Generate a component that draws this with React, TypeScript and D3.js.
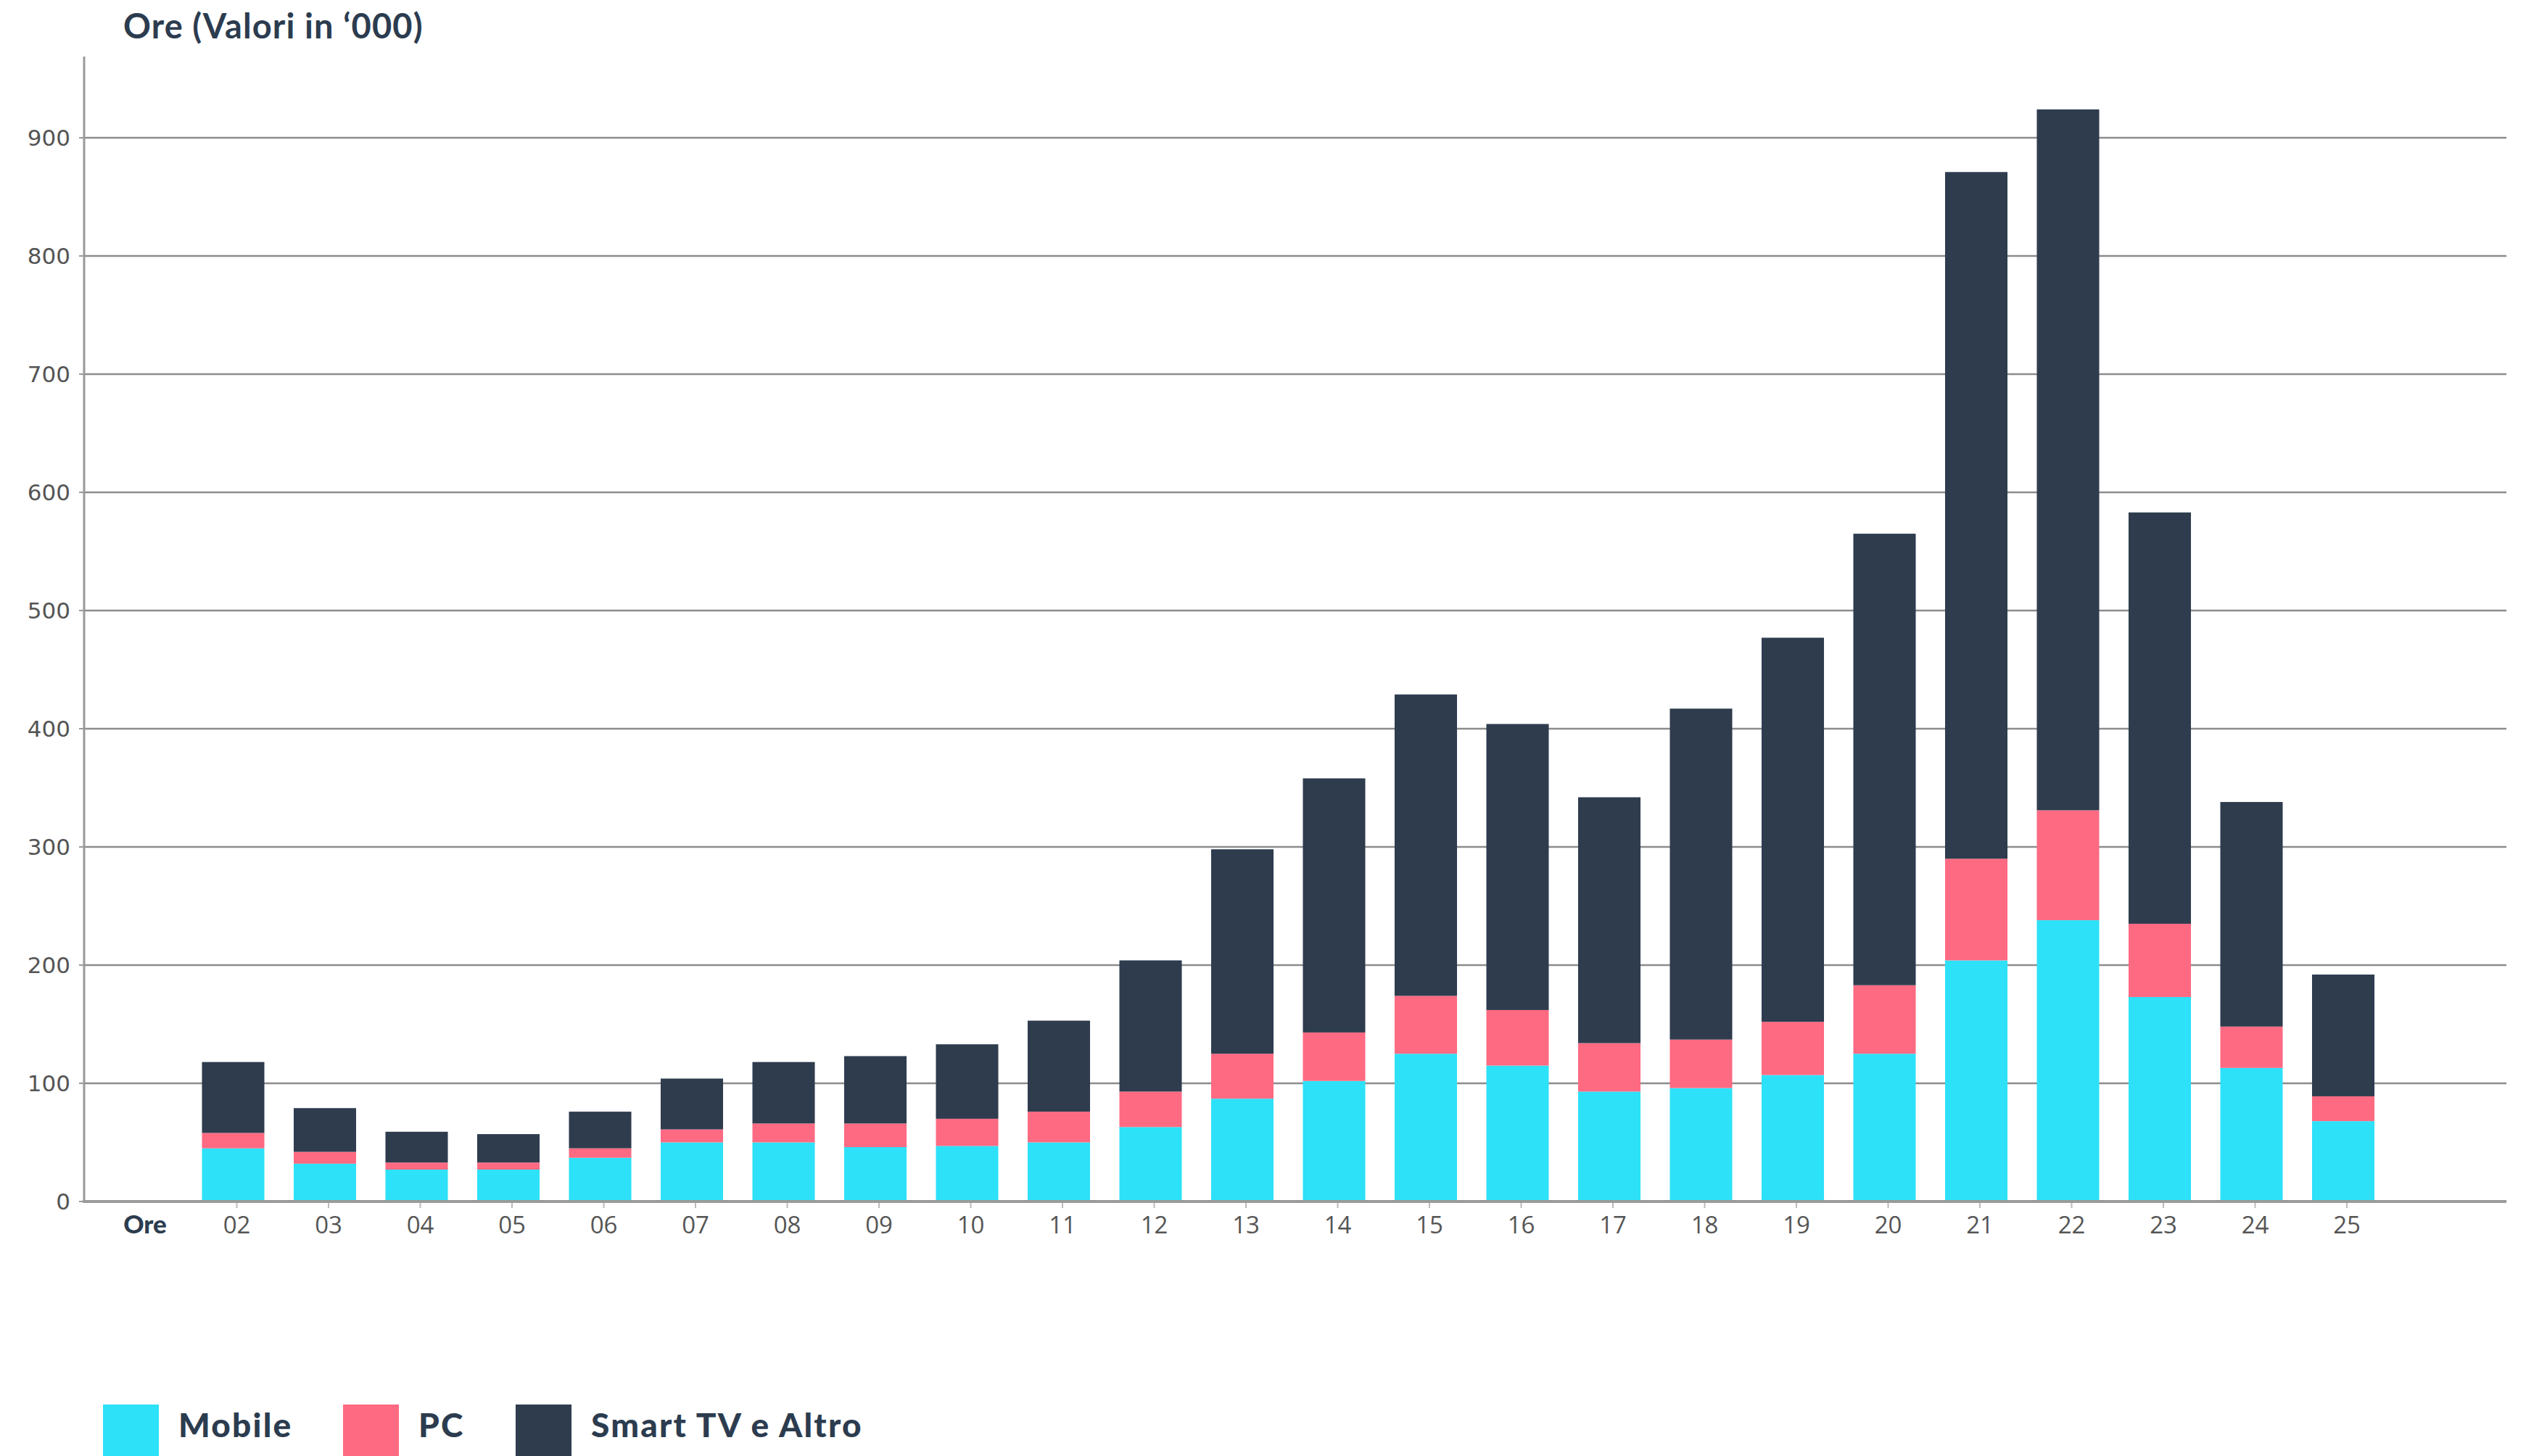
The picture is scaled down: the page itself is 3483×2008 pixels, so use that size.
import React from "react";
import * as d3 from "d3";

const categories = ["Ore", "02", "03", "04", "05", "06", "07", "08", "09", "10", "11", "12", "13", "14", "15", "16", "17", "18", "19", "20", "21", "22", "23", "24", "25"];
const hours = ["02", "03", "04", "05", "06", "07", "08", "09", "10", "11", "12", "13", "14", "15", "16", "17", "18", "19", "20", "21", "22", "23", "24", "25"];
const mobile = [45, 32, 27, 27, 37, 50, 50, 46, 47, 50, 63, 87, 102, 125, 115, 93, 96, 107, 125, 204, 238, 173, 113, 68];
const pc = [13, 10, 6, 6, 8, 11, 16, 20, 23, 26, 30, 38, 41, 49, 47, 41, 41, 45, 58, 86, 93, 62, 35, 21];
const smart = [60, 37, 26, 24, 31, 43, 52, 57, 63, 77, 111, 173, 215, 255, 242, 208, 280, 325, 382, 581, 593, 348, 190, 103];
const yTicks = [0, 100, 200, 300, 400, 500, 600, 700, 800, 900];
const seriesKeys = ["mobile", "pc", "smart"];
const seriesNames = ["Mobile", "PC", "Smart TV e Altro"];
const colors = ["#2DE1F8", "#FE6A82", "#2E3C4E"];

const W = 3483;
const H = 2008;

export default function App() {
  const x = d3.scalePoint<string>().domain(categories).range([200, 3236]);
  const barW = x.step() * 0.68;
  const y = d3.scaleLinear().domain([0, 900]).range([1657, 190]);
  const rows = hours.map((h, i) => ({ hour: h, mobile: mobile[i], pc: pc[i], smart: smart[i] }));
  const stacked = d3.stack<any>().keys(seriesKeys)(rows);
  const axisLeft = 116;
  const axisRight = 3456;
  const dark = "#2C3C4F";
  const legendX = [142, 473, 711];

  return (
    <svg
      width={W}
      height={H}
      style={{ position: "absolute", left: 0, top: 0, background: "#fff" }}
      xmlns="http://www.w3.org/2000/svg"
    >
      <rect x={0} y={0} width={W} height={H} fill="#fff" />
      <text x={170} y={53} fontFamily="Lato" fontWeight={700} fontSize={47} letterSpacing={1.1} fill={dark}>
        Ore (Valori in ‘000)
      </text>

      {/* gridlines */}
      {yTicks.filter((t) => t > 0).map((t) => (
        <line key={t} x1={axisLeft} x2={axisRight} y1={y(t)} y2={y(t)} stroke="#8c8c8c" strokeWidth={2.5} />
      ))}
      {/* y ticks and labels */}
      {yTicks.map((t) => (
        <g key={"yl" + t}>
          <line x1={109} x2={axisLeft} y1={y(t)} y2={y(t)} stroke="#999" strokeWidth={2} />
          <text
            x={97}
            y={y(t)}
            dy="0.36em"
            textAnchor="end"
            fontFamily="DejaVu Sans"
            fontSize={31}
            fill="#555"
          >
            {t}
          </text>
        </g>
      ))}

      {/* bars */}
      {stacked.map((s, si) => (
        <g key={s.key} fill={colors[si]}>
          {s.map((d: any, i: number) => (
            <rect
              key={i}
              x={(x(d.data.hour) as number) - barW / 2 - 5}
              y={y(d[1])}
              width={barW}
              height={y(d[0]) - y(d[1])}
            />
          ))}
        </g>
      ))}

      {/* axes */}
      <line x1={axisLeft} x2={axisLeft} y1={78} y2={1658} stroke="#999" strokeWidth={3} />
      <line x1={axisLeft - 2} x2={axisRight} y1={y(0)} y2={y(0)} stroke="#9a9a9a" strokeWidth={4} />

      {/* x ticks and labels */}
      {categories.map((c, i) => (
        <g key={"xl" + c}>
          {i > 0 && (
            <line x1={x(c)} x2={x(c)} y1={y(0) + 2} y2={y(0) + 9} stroke="#bbb" strokeWidth={2} />
          )}
          <text
            x={x(c)}
            y={1701}
            textAnchor="middle"
            fontFamily={i === 0 ? "Lato" : "Open Sans"}
            fontWeight={i === 0 ? 900 : 400}
            fontSize={i === 0 ? 35 : 33}
            fill={i === 0 ? dark : "#555"}
          >
            {c}
          </text>
        </g>
      ))}

      {/* legend */}
      {seriesNames.map((n, i) => (
        <g key={n}>
          <rect x={legendX[i]} y={1937} width={77} height={77} fill={colors[i]} />
          <text
            x={legendX[i] + 104}
            y={1982}
            fontFamily="Lato"
            fontWeight={900}
            fontSize={46}
            letterSpacing={2.2}
            fill={dark}
          >
            {n}
          </text>
        </g>
      ))}
    </svg>
  );
}
